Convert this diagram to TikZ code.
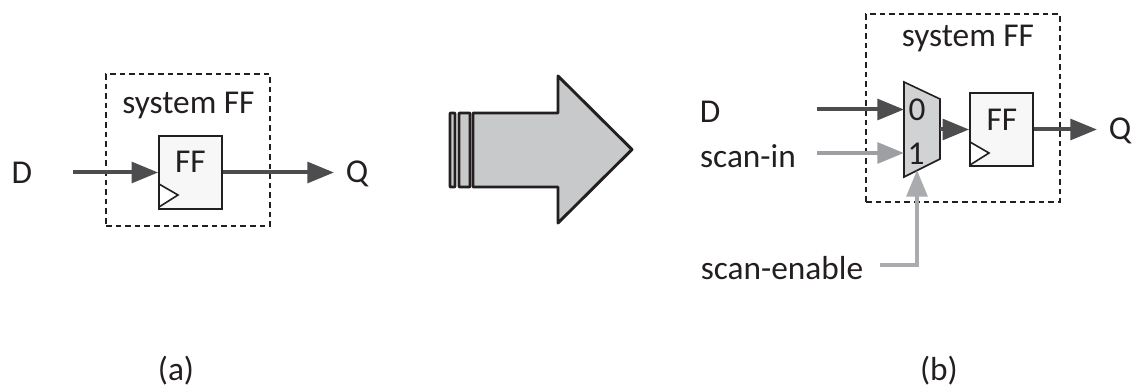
\documentclass[tikz,border=0pt]{standalone}
\usepackage{fontspec}
\setmainfont{Carlito}
\usetikzlibrary{arrows.meta}
\definecolor{darkw}{HTML}{4D4D4F}
\definecolor{midw}{HTML}{9D9FA2}
\definecolor{lightw}{HTML}{A9ABAE}
\definecolor{inkc}{HTML}{231F20}
\definecolor{fillg}{HTML}{C8C9CB}
\definecolor{muxg}{HTML}{D1D2D4}
\tikzset{
  x=0.75pt,y=-0.75pt,
  lbl/.style={inner sep=0pt,text=inkc,font=\fontsize{25}{30}\selectfont},
  dashbox/.style={draw=inkc,line width=0.9pt,dash pattern=on 4.2pt off 3pt},
  ffbox/.style={draw=inkc,line width=1.2pt,fill=black!3,minimum width=47.25pt,minimum height=54.75pt,inner sep=0pt},
  clk/.style={draw=inkc,line width=1.2pt,fill=white,line join=miter},
  sig/.style={line width=3pt,-{Triangle[length=20pt,width=15.5pt]}},
  bigshape/.style={draw=inkc,line width=2.2pt,fill=fillg,line join=round},
}
\begin{document}
\begin{tikzpicture}
\useasboundingbox (0,0) rectangle (1136,388);
% (a)
\node[dashbox,minimum width=123pt,minimum height=114pt,inner sep=0pt] (boxa) at (188,150) {};
\node[lbl] (sysa) at (188.5,105) {system FF};
\node[ffbox,anchor=center] (ffa) at (190.5,172.5) {};
\node[lbl] (ffla) at (190.5,162) {FF};
\draw[clk] (159,184) -- (178,195) -- (159,207) -- cycle;
\node[lbl] (da) at (22,173) {D};
\node[lbl] (qa) at (357,174) {Q};
\coordinate (das) at (73,172.5);
\coordinate (qae) at (334,172.5);
\draw[sig,darkw] (das) -- (ffa.west);
\draw[sig,darkw] (ffa.east) -- (qae);
\node[lbl] (capa) at (176,371) {(a)};
% big arrow
\draw[bigshape,rounded corners=0.6pt] (450,113) rectangle (455,187);
\draw[bigshape,rounded corners=0.6pt] (459,113) rectangle (470,187);
\draw[bigshape] (473,113) -- (558,113) -- (558,76) -- (632,149.5) -- (558,223) -- (558,187) -- (473,187) -- cycle;
% (b)
\node[dashbox,minimum width=145.5pt,minimum height=141pt,inner sep=0pt] (boxb) at (963,108) {};
\node[lbl] (sysb) at (968,38) {system FF};
\draw[draw=inkc,line width=1.2pt,fill=muxg,line join=miter] (904,82) -- (940,99) -- (940,159) -- (904,177) -- cycle;
\coordinate (mi0) at (904,109.5);
\coordinate (mi1) at (904,153);
\coordinate (mo) at (940,129.5);
\coordinate (ms) at (917,170);
\node[lbl] (z) at (917,110) {0};
\node[lbl] (o) at (916,154) {1};
\node[ffbox] (ffb) at (1001.5,129.5) {};
\node[lbl] (fflb) at (1002,120) {FF};
\draw[clk] (970,142) -- (989,153) -- (970,165) -- cycle;
\node[lbl] (db) at (710,112) {D};
\node[lbl] (si) at (748,156) {scan-in};
\node[lbl] (se) at (782,268) {scan-enable};
\node[lbl] (qb) at (1120,131) {Q};
\coordinate (dbs) at (817,109.5);
\coordinate (sis) at (817,153);
\coordinate (ses) at (880,265);
\coordinate (qbe) at (1097,129.5);
\draw[sig,darkw] (dbs) -- (mi0);
\draw[sig,midw] (sis) -- (mi1);
\draw[sig,lightw] (ses) -| (ms);
\draw[darkw,line width=3pt,-{Triangle[length=20pt,width=15.5pt]}] (mo) -- (ffb.west);
\draw[sig,darkw] (ffb.east) -- (qbe);
\node[lbl] (capb) at (939,371) {(b)};
\end{tikzpicture}
\end{document}
